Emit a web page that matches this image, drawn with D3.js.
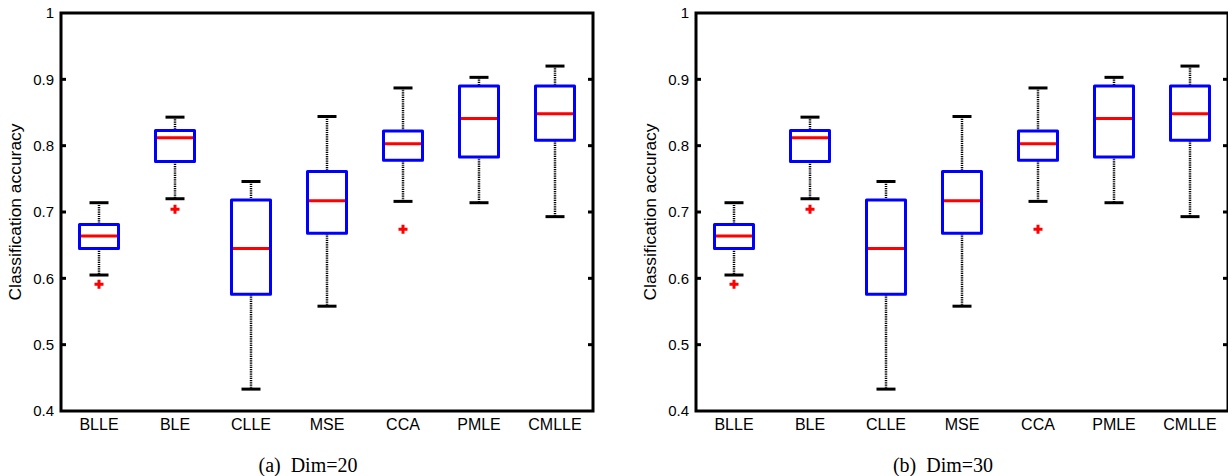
<!DOCTYPE html>
<html>
<head>
<meta charset="utf-8">
<script src="https://cdn.jsdelivr.net/npm/d3@7"></script>
<style>
  body { margin:0; background:#fff; }
  svg { display:block; }
</style>
</head>
<body>
<div id="chart"></div>
<script>
/* Box plot data */
var categories = ["BLLE", "BLE", "CLLE", "MSE", "CCA", "PMLE", "CMLLE"];
var yTicks = [0.4, 0.5, 0.6, 0.7, 0.8, 0.9, 1];

// Dim=20
var low20    = [0.605, 0.720, 0.433, 0.558, 0.716, 0.714, 0.693];
var q1_20    = [0.645, 0.776, 0.576, 0.668, 0.778, 0.783, 0.808];
var med20    = [0.664, 0.812, 0.645, 0.717, 0.803, 0.841, 0.848];
var q3_20    = [0.681, 0.823, 0.718, 0.761, 0.822, 0.890, 0.890];
var high20   = [0.714, 0.843, 0.746, 0.844, 0.887, 0.903, 0.920];
var out20    = [[0.591], [0.704], [], [], [0.674], [], []];

// Dim=30
var low30    = [0.605, 0.720, 0.433, 0.558, 0.716, 0.714, 0.693];
var q1_30    = [0.645, 0.776, 0.576, 0.668, 0.778, 0.783, 0.808];
var med30    = [0.664, 0.812, 0.645, 0.717, 0.803, 0.841, 0.848];
var q3_30    = [0.681, 0.823, 0.718, 0.761, 0.822, 0.890, 0.890];
var high30   = [0.714, 0.843, 0.746, 0.844, 0.887, 0.903, 0.920];
var out30    = [[0.591], [0.704], [], [], [0.674], [], []];

var W = 1228, H = 476;
var plotW = 532, plotH = 398, marginTop = 13;

var svg = d3.select("#chart").append("svg")
  .attr("width", W)
  .attr("height", H);

var x = d3.scaleBand().domain(categories).range([0, plotW]).padding(0);
var y = d3.scaleLinear().domain([0.4, 1]).range([plotH, 0]);

var boxW = 39, capW = 19;

function drawPanel(left, low, q1, med, q3, high, outs, caption) {
  var data = categories.map(function(c, i) {
    return { cat:c, low:low[i], q1:q1[i], med:med[i], q3:q3[i], high:high[i], outs:outs[i] };
  });

  var g = svg.append("g").attr("transform", "translate(" + left + "," + marginTop + ")");

  // Y tick labels
  g.selectAll(".ylab").data(yTicks).enter().append("text")
    .attr("x", -7)
    .attr("y", function(d) { return y(d); })
    .attr("dy", "0.36em")
    .attr("text-anchor", "end")
    .attr("font-family", "Liberation Sans, Arial, sans-serif")
    .attr("font-size", "15px")
    .text(function(d) { return d3.format("")(d); });

  // inward ticks on left and right
  var inner = yTicks.slice(1, -1);
  g.selectAll(".tl").data(inner).enter().append("line")
    .attr("x1", 0).attr("x2", 5)
    .attr("y1", function(d) { return y(d); }).attr("y2", function(d) { return y(d); })
    .attr("stroke", "#000").attr("stroke-width", 3);
  g.selectAll(".tr").data(inner).enter().append("line")
    .attr("x1", plotW - 5).attr("x2", plotW)
    .attr("y1", function(d) { return y(d); }).attr("y2", function(d) { return y(d); })
    .attr("stroke", "#000").attr("stroke-width", 3);

  // X labels
  g.selectAll(".xlab").data(categories).enter().append("text")
    .attr("x", function(d) { return x(d) + x.bandwidth() / 2; })
    .attr("y", plotH + 19)
    .attr("text-anchor", "middle")
    .attr("font-family", "Liberation Sans, Arial, sans-serif")
    .attr("font-size", "16px")
    .text(function(d) { return d; });

  // Y axis title
  g.append("text")
    .attr("transform", "rotate(-90)")
    .attr("x", -plotH / 2)
    .attr("y", -40)
    .attr("text-anchor", "middle")
    .attr("font-family", "Liberation Sans, Arial, sans-serif")
    .attr("font-size", "16px")
    .attr("textLength", 177)
    .attr("lengthAdjust", "spacingAndGlyphs")
    .text("Classification accuracy");

  var boxes = g.selectAll(".box").data(data).enter().append("g")
    .attr("transform", function(d) { return "translate(" + (x(d.cat) + x.bandwidth() / 2) + ",0)"; });

  // whiskers (dotted)
  boxes.append("line")
    .attr("x1", 0).attr("x2", 0)
    .attr("y1", function(d) { return y(d.high); }).attr("y2", function(d) { return y(d.q3); })
    .attr("stroke", "#000").attr("stroke-width", 2.5).attr("stroke-dasharray", "1.2,1");
  boxes.append("line")
    .attr("x1", 0).attr("x2", 0)
    .attr("y1", function(d) { return y(d.q1); }).attr("y2", function(d) { return y(d.low); })
    .attr("stroke", "#000").attr("stroke-width", 2.5).attr("stroke-dasharray", "1.2,1");

  // caps
  boxes.append("line")
    .attr("x1", -capW / 2).attr("x2", capW / 2)
    .attr("y1", function(d) { return y(d.high); }).attr("y2", function(d) { return y(d.high); })
    .attr("stroke", "#000").attr("stroke-width", 3);
  boxes.append("line")
    .attr("x1", -capW / 2).attr("x2", capW / 2)
    .attr("y1", function(d) { return y(d.low); }).attr("y2", function(d) { return y(d.low); })
    .attr("stroke", "#000").attr("stroke-width", 3);

  // box
  boxes.append("rect")
    .attr("x", -boxW / 2)
    .attr("width", boxW)
    .attr("y", function(d) { return y(d.q3); })
    .attr("height", function(d) { return y(d.q1) - y(d.q3); })
    .attr("fill", "none")
    .attr("stroke", "#0000ff")
    .attr("stroke-width", 3)
    .attr("stroke-linejoin", "round");

  // median
  boxes.append("line")
    .attr("x1", -boxW / 2 + 1.5).attr("x2", boxW / 2 - 1.5)
    .attr("y1", function(d) { return y(d.med); }).attr("y2", function(d) { return y(d.med); })
    .attr("stroke", "#ff0000").attr("stroke-width", 3);

  // outliers
  boxes.selectAll(".out").data(function(d) { return d.outs; }).enter().append("path")
    .attr("d", "M-4.5,0H4.5M0,-4.5V4.5")
    .attr("transform", function(v) { return "translate(0," + y(v) + ")"; })
    .attr("stroke", "#ff0000").attr("stroke-width", 3);

  // frame
  g.append("rect")
    .attr("x", 0).attr("y", 0)
    .attr("width", plotW).attr("height", plotH)
    .attr("fill", "none")
    .attr("stroke", "#000")
    .attr("stroke-width", 3);

  // caption
  g.append("text")
    .attr("x", plotW / 2 - 19)
    .attr("y", 459)
    .attr("text-anchor", "middle")
    .attr("font-family", "Liberation Serif, Times New Roman, serif")
    .attr("font-size", "20px")
    .style("white-space", "pre")
    .text(caption);
}

drawPanel(61, low20, q1_20, med20, q3_20, high20, out20, "(a)  Dim=20");
drawPanel(696, low30, q1_30, med30, q3_30, high30, out30, "(b)  Dim=30");
</script>
</body>
</html>
